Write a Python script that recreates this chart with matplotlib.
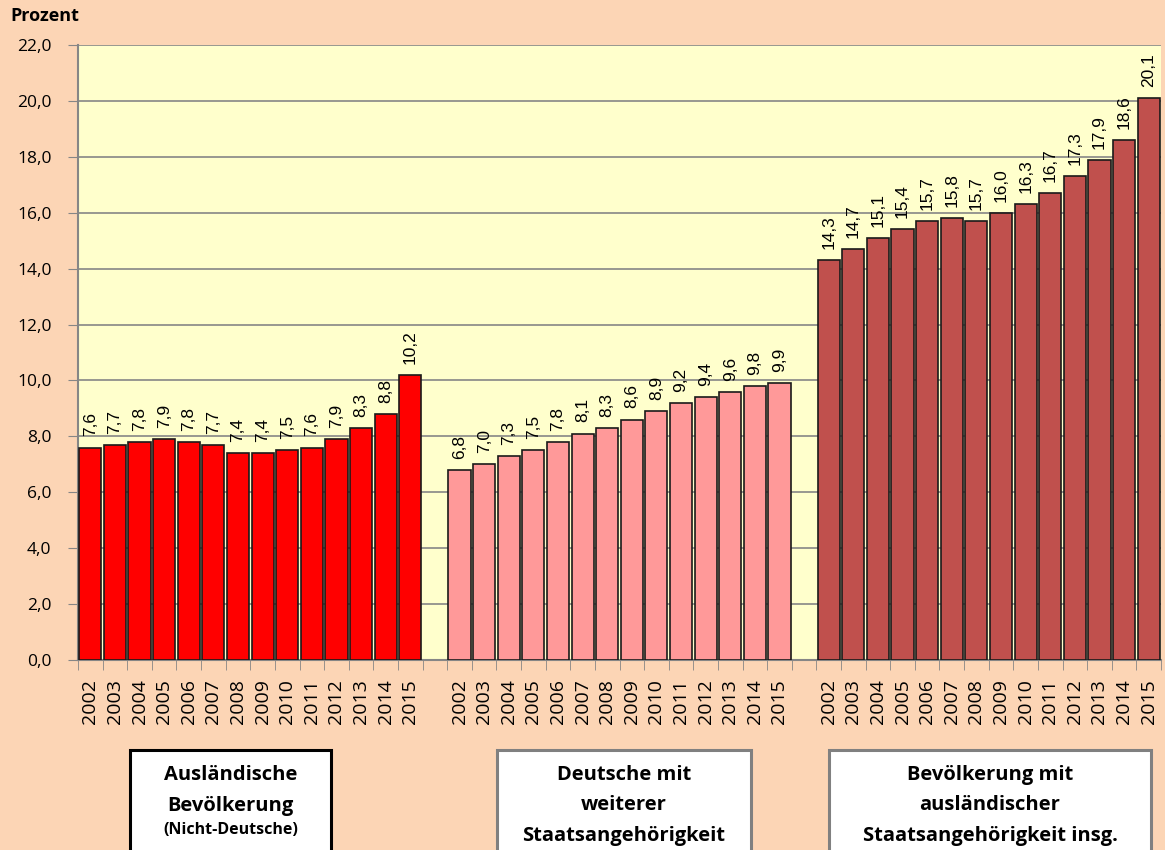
import matplotlib.pyplot as plt
import matplotlib.ticker as mtick
import numpy as np
from matplotlib.patches import Rectangle

years = [str(y) for y in range(2002, 2016)]
auslaender = [7.6, 7.7, 7.8, 7.9, 7.8, 7.7, 7.4, 7.4, 7.5, 7.6, 7.9, 8.3, 8.8, 10.2]
deutsche_mit = [6.8, 7.0, 7.3, 7.5, 7.8, 8.1, 8.3, 8.6, 8.9, 9.2, 9.4, 9.6, 9.8, 9.9]
insgesamt = [14.3, 14.7, 15.1, 15.4, 15.7, 15.8, 15.7, 16.0, 16.3, 16.7, 17.3, 17.9, 18.6, 20.1]

series = [auslaender, deutsche_mit, insgesamt]
colors = ["#FF0000", "#FF9999", "#C0504D"]
box_texts = [
    ["Ausländische", "Bevölkerung"],
    ["Deutsche mit", "weiterer", "Staatsangehörigkeit"],
    ["Bevölkerung mit", "ausländischer", "Staatsangehörigkeit insg."],
]

bg = "#FCD5B5"
fig = plt.figure(figsize=(11.65, 8.5), dpi=100, facecolor=bg)
ax = fig.add_axes([78 / 1165, 190 / 850, (1161 - 78) / 1165, (660 - 45) / 850])
ax.set_facecolor("#FFFFCC")

n = len(years)
xs_all = []
labels_all = []
for g, vals in enumerate(series):
    x = np.arange(n) + g * (n + 1)
    rects = ax.bar(x, vals, width=0.9, color=colors[g], edgecolor="#1a1a1a", linewidth=1.2, zorder=3)
    for r, v in zip(rects, vals):
        ax.annotate(f"{v:.1f}".replace(".", ","),
                    xy=(r.get_x() + r.get_width() / 2, r.get_height()),
                    xytext=(0, 8), textcoords="offset points",
                    ha="center", va="bottom", rotation=90,
                    fontsize=12.5, family="Liberation Sans", zorder=4)
    xs_all.extend(x)
    labels_all.extend(years)

total = 3 * n + 2
ax.set_xlim(-0.5, total - 0.5)
ax.set_ylim(0, 22)
ax.set_xticks(xs_all)
ax.set_xticklabels(labels_all, rotation=90, fontsize=14, family="Open Sans")
ax.set_xticks(np.arange(-0.5, total), minor=True)
ax.tick_params(axis="x", which="major", length=0, pad=14)
ax.tick_params(axis="x", which="minor", length=7, color="#868686", direction="out")

ax.set_yticks(np.arange(0, 23, 2))
ax.yaxis.set_major_formatter(mtick.FuncFormatter(lambda v, p: f"{v:.1f}".replace(".", ",")))
ax.tick_params(axis="y", length=7, color="#868686", labelsize=12.5, pad=12)
for lab in ax.get_yticklabels():
    lab.set_family("Open Sans")
ax.yaxis.grid(True, color="#868686", linewidth=1.2, zorder=0)

for side in ["top", "right"]:
    ax.spines[side].set_visible(False)
for side in ["left", "bottom"]:
    ax.spines[side].set_color("#868686")
    ax.spines[side].set_linewidth(1.5)

fig.text(10 / 1165, 1 - 16 / 850, "Prozent", fontsize=13, fontweight="bold",
         family="Open Sans", ha="left", va="center")

# boxes below the groups
boxes = [(130, 331, "black"), (497, 751, "#808080"), (829, 1151, "#808080")]
for (x0, x1, ec), lines in zip(boxes, box_texts):
    fig.patches.append(Rectangle((x0 / 1165, -0.05), (x1 - x0) / 1165, (850 - 750) / 850 + 0.05,
                                 transform=fig.transFigure, facecolor="white",
                                 edgecolor=ec, linewidth=2.2, zorder=1))
    cx = (x0 + x1) / 2 / 1165
    for i, line in enumerate(lines):
        fig.text(cx, 1 - (775 + i * 30.5) / 850, line, fontsize=14.5, fontweight="bold",
                 family="Open Sans", ha="center", va="center", zorder=2)
fig.text((130 + 331) / 2 / 1165, 1 - 830 / 850, "(Nicht-Deutsche)", fontsize=11.5,
         fontweight="bold", family="Open Sans", ha="center", va="center", zorder=2)

fig.savefig("out.png", dpi=100, facecolor=bg)
